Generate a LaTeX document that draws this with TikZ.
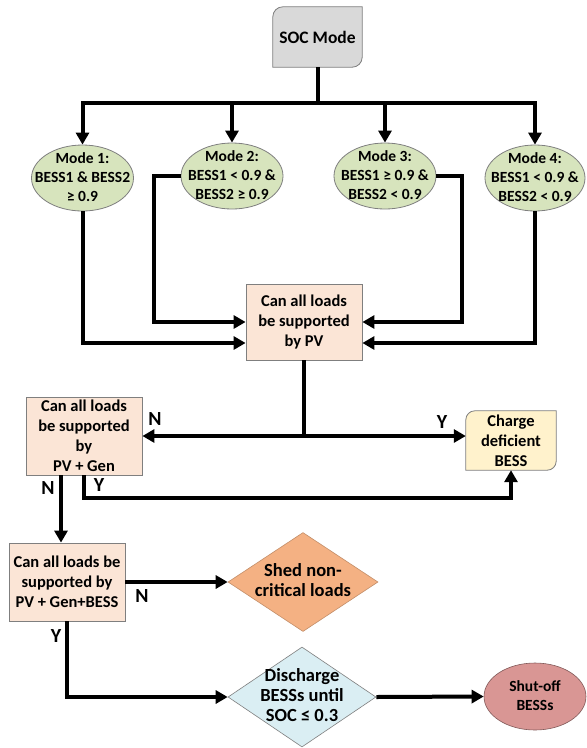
\documentclass[tikz,border=0pt]{standalone}
\usepackage{fontspec}
\setmainfont{Carlito}
\usetikzlibrary{arrows.meta,shapes.geometric,backgrounds}
\definecolor{socfill}{HTML}{D9D9D9}
\definecolor{modefill}{HTML}{D7E4BD}
\definecolor{peach}{HTML}{FBE5D6}
\definecolor{chargefill}{HTML}{FFF2CC}
\definecolor{shedfill}{HTML}{F4B183}
\definecolor{disfill}{HTML}{DAEEF3}
\definecolor{shutfill}{HTML}{D99694}
\definecolor{edgegray}{HTML}{7F7F7F}
\newcommand\zbox[1]{\makebox[0pt]{\smash{\raisebox{-0.25em}{\begin{tabular}{@{}c@{}}#1\end{tabular}}}}}
\begin{document}
\begin{tikzpicture}[x=1pt,y=-1pt,
  every node/.style={inner sep=0pt, font=\bfseries\fontsize{16.5}{20}\selectfont},
  boxnode/.style={rectangle, align=center, fill=peach, draw=edgegray, line width=0.8pt},
  modenode/.style={ellipse, fill=modefill, draw=edgegray, line width=0.8pt,
     minimum width=102pt, minimum height=66pt, font=\bfseries\fontsize{15.5}{19}\selectfont},
  dianode/.style={diamond, line width=0.6pt, font=\bfseries\fontsize{18.5}{20}\selectfont},
  yn/.style={font=\bfseries\fontsize{20}{24}\selectfont},
  conn/.style={line width=4pt},
  arr/.style={line width=4pt, -{Triangle[length=12pt,width=13pt]}},
  darr/.style={line width=4pt, {Triangle[length=12pt,width=13pt]}-{Triangle[length=12pt,width=13pt]}}]
\useasboundingbox (0,0) rectangle (587,748);

% nodes
\node[rectangle, minimum width=89pt, minimum height=60pt, align=center,
      font=\bfseries\fontsize{17.5}{21}\selectfont] (soc) at (317.5,37) {SOC Mode};
\node[modenode] (m1) at (82.5,178) {\zbox{Mode 1:\\BESS1 \& BESS2\\≥ 0.9}};
\node[modenode] (m2) at (232,176) {\zbox{Mode 2:\\BESS1 < 0.9 \&\\BESS2 ≥ 0.9}};
\node[modenode] (m3) at (385,176) {\zbox{Mode 3:\\BESS1 ≥ 0.9 \&\\BESS2 < 0.9}};
\node[modenode, minimum width=100pt] (m4) at (535,178) {\zbox{Mode 4:\\BESS1 < 0.9 \&\\BESS2 < 0.9}};
\node[boxnode, minimum width=116pt, minimum height=76pt] (pv) at (304,322) {Can all loads\\be supported\\by PV};
\node[boxnode, minimum width=116pt, minimum height=78pt] (pvg) at (84,436) {Can all loads\\be supported\\by\\PV + Gen};
\node[rectangle, minimum width=90pt, minimum height=59pt, align=center] (charge) at (511,440.5) {Charge\\deficient\\BESS};
\node[boxnode, minimum width=116pt, minimum height=78pt] (bess) at (67,582) {Can all loads be\\supported by\\PV + Gen+BESS};
\node[dianode, fill=shedfill, draw=shedfill!80!black,
      minimum width=150pt, minimum height=99pt] (shed) at (303,582) {\zbox{Shed non-\\critical loads}};
\node[dianode, fill=disfill, draw=edgegray,
      minimum width=148pt, minimum height=100pt] (dis) at (302,697) {\zbox{Discharge\\BESSs until\\SOC ≤ 0.3}};
\node[ellipse, fill=shutfill, draw=shutfill!60!black, line width=0.6pt,
      minimum width=102pt, minimum height=67pt, font=\bfseries\fontsize{15.5}{19}\selectfont] (shut) at (535,696.5) {\zbox{Shut-off\\BESSs}};

% background and rounded-diagonal box outlines
\begin{scope}[on background layer]
\fill[white] (0,0) rectangle (587,748);
\filldraw[fill=socfill, draw=edgegray, line width=0.8pt]
  (soc.south west) -- ([yshift=-10pt]soc.north west) arc[start angle=180,end angle=90,radius=10pt]
  -- (soc.north east) -- ([yshift=10pt]soc.south east) arc[start angle=0,end angle=-90,radius=10pt] -- cycle;
\filldraw[fill=chargefill, draw=edgegray, line width=0.8pt]
  (charge.south west) -- ([yshift=-9pt]charge.north west) arc[start angle=180,end angle=90,radius=9pt]
  -- (charge.north east) -- ([yshift=9pt]charge.south east) arc[start angle=0,end angle=-90,radius=9pt] -- cycle;
\end{scope}

% SOC to modes
\coordinate (bar) at (317.5,103);
\draw[conn] (soc.south) -- (bar);
\draw[darr] (m1.north) |- (bar) -| (m4.north);
\draw[arr] (m2.north |- bar) -- (m2.north);
\draw[arr] (m3.north |- bar) -- (m3.north);

% modes to PV
\draw[arr] (m1.south) |- ([yshift=-21pt]pv.west);
\draw[arr] (m2.west) -- ++(-27,0) |- (pv.west);
\draw[arr] (m3.east) -- ++(26,0) |- (pv.east);
\draw[arr] (m4.south) |- ([yshift=-21pt]pv.east);

% PV decision
\draw[conn] (pv.south) -- (pv.south |- pvg.east);
\draw[darr] (pvg.east) -- (charge.west |- pvg.east);
\node[yn] (n1) at (155,419) {N};
\node[yn] (y1) at (442,422) {Y};

% PV + Gen decision
\draw[arr] ([xshift=-23pt]pvg.south) -- ([xshift=-23pt]pvg.south |- bess.north);
\draw[arr] (pvg.south) -- ++(0,23) -| (charge.south);
\node[yn] (n2) at (48,488) {N};
\node[yn] (y2) at (99,485) {Y};

% PV + Gen + BESS decision
\draw[arr] (bess.east) -- (shed.west);
\draw[arr] (bess.south) |- (dis.west);
\draw[arr] (dis.east) -- (shut.west);
\node[yn] (n3) at (142,596) {N};
\node[yn] (y3) at (56,636) {Y};
\end{tikzpicture}
\end{document}
